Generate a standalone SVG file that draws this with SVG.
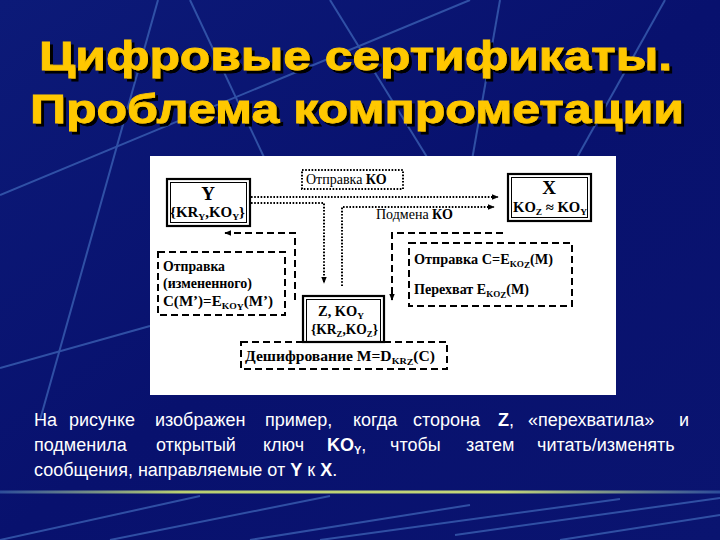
<svg xmlns="http://www.w3.org/2000/svg" width="720" height="540" viewBox="0 0 720 540">
<defs>
<linearGradient id="bg" x1="0" y1="0" x2="1" y2="1">
<stop offset="0" stop-color="#0c1a78"/>
<stop offset="0.5" stop-color="#08116e"/>
<stop offset="1" stop-color="#0a1470"/>
</linearGradient>
<linearGradient id="sep" x1="0" y1="0" x2="1" y2="0">
<stop offset="0" stop-color="#2d4c9a"/>
<stop offset="0.25" stop-color="#b9cf72"/>
<stop offset="0.7" stop-color="#c4d67a"/>
<stop offset="1" stop-color="#2d4c9a"/>
</linearGradient>
<filter id="shadow" x="-5%" y="-20%" width="110%" height="140%">
<feOffset in="SourceAlpha" dx="2.5" dy="2.5" result="o"/>
<feFlood flood-color="#000"/>
<feComposite in2="o" operator="in" result="s"/>
<feMerge><feMergeNode in="s"/><feMergeNode in="SourceGraphic"/></feMerge>
</filter>
<marker id="ah" viewBox="0 0 10 10" refX="9" refY="5" markerWidth="7" markerHeight="7" orient="auto" markerUnits="userSpaceOnUse">
<path d="M0,1 L10,5 L0,9 z" fill="#000"/>
</marker>
<style>
.t{font-family:"Liberation Serif","Times New Roman",serif;font-weight:bold;font-size:14px;fill:#000}
.tn{font-weight:normal}
.big{font-size:19px}
.sub{font-size:9px}
.dot{fill:none;stroke:#000;stroke-width:2;stroke-dasharray:1.6 1.6}
.dash{fill:none;stroke:#000;stroke-width:2;stroke-dasharray:7 4}
.bo{fill:#fff;stroke:#000;stroke-width:2.2}
.bi{fill:none;stroke:#000;stroke-width:1}
.body{font-family:"Liberation Sans",Arial,sans-serif;font-size:18px;fill:#fff}
.title{font-family:"Liberation Sans",Arial,sans-serif;font-weight:bold;font-size:41px;fill:#ffc800;stroke:#ffc800;stroke-width:0.8}
.bgl{stroke:#4a78c8;stroke-width:2;fill:none;opacity:0.6}
</style>
</defs>

<rect x="0" y="0" width="720" height="540" fill="url(#bg)"/>
<g class="bgl">
<line x1="158" y1="0" x2="40" y2="420"/>
<line x1="190" y1="0" x2="270" y2="170"/>
<line x1="330" y1="0" x2="435" y2="170"/>
<line x1="0" y1="195" x2="470" y2="0"/>
<line x1="500" y1="0" x2="472" y2="160"/>
<line x1="665" y1="0" x2="570" y2="170"/>
<line x1="0" y1="368" x2="150" y2="326"/>
<line x1="0" y1="540" x2="200" y2="496"/>
<line x1="110" y1="540" x2="330" y2="496"/>
<line x1="250" y1="540" x2="470" y2="505"/>
<line x1="320" y1="540" x2="620" y2="499"/>
<line x1="455" y1="535" x2="720" y2="498"/>
<line x1="560" y1="540" x2="720" y2="515"/>
</g>
<rect x="0" y="490.5" width="720" height="3" fill="url(#sep)"/>

<g id="title" filter="url(#shadow)">
<text class="title" x="39" y="70" textLength="633" lengthAdjust="spacingAndGlyphs">Цифровые сертификаты.</text>
<text class="title" x="30" y="123" textLength="654" lengthAdjust="spacingAndGlyphs">Проблема компрометации</text>
</g>

<rect x="150" y="156" width="466" height="239" fill="#fff"/>

<g id="connectors">
<polyline class="dot" points="251,197 498,197" marker-end="url(#ah)"/>
<polyline class="dot" points="251,203 324,203 324,283" marker-end="url(#ah)"/>
<polyline class="dot" points="342,286 342,207 494,207" marker-end="url(#ah)"/>
<polyline class="dash" points="295,300 295,233 225,233" marker-end="url(#ah)"/>
<polyline class="dash" points="503,233 392,233 392,300" marker-end="url(#ah)"/>
</g>

<g id="send-ko">
<rect class="dot" x="302" y="170" width="101" height="19"/>
<text class="t" x="306" y="184" font-size="11"><tspan class="tn">Отправка</tspan> КО</text>
</g>

<g id="label-podmena">
<text class="t" x="376" y="219" font-size="11"><tspan class="tn">Подмена</tspan> КО</text>
</g>

<g id="node-y">
<rect class="bo" x="167" y="179" width="83" height="47"/>
<rect class="bi" x="170.5" y="182.5" width="76" height="40"/>
<text class="t big" x="208" y="200" text-anchor="middle">Y</text>
<text class="t" x="170" y="217" textLength="75" lengthAdjust="spacingAndGlyphs">{KR<tspan class="sub" dy="3">Y</tspan><tspan dy="-3">,KO</tspan><tspan class="sub" dy="3">Y</tspan><tspan dy="-3">}</tspan></text>
</g>

<g id="node-x">
<rect class="bo" x="508" y="174" width="83" height="47"/>
<rect class="bi" x="511.5" y="177.5" width="76" height="40"/>
<text class="t big" x="549" y="194" text-anchor="middle">X</text>
<text class="t" x="513" y="212" textLength="74" lengthAdjust="spacingAndGlyphs">KO<tspan class="sub" dy="3">Z</tspan><tspan dy="-3"> ≈ KO</tspan><tspan class="sub" dy="3">Y</tspan></text>
</g>

<g id="node-send-modified">
<rect class="dash" x="158" y="252" width="127" height="63"/>
<text class="t" x="163" y="271" textLength="62" lengthAdjust="spacingAndGlyphs">Отправка</text>
<text class="t" x="163" y="288" textLength="89" lengthAdjust="spacingAndGlyphs">(измененного)</text>
<text class="t" x="163" y="306" textLength="110" lengthAdjust="spacingAndGlyphs">C(M’)=E<tspan class="sub" dy="3">KO</tspan><tspan class="sub" font-size="7" dy="1">Y</tspan><tspan dy="-4">(M’)</tspan></text>
</g>

<g id="node-z">
<rect class="bo" x="303" y="296" width="81" height="46"/>
<rect class="bi" x="306.5" y="299.5" width="74" height="42"/>
<text class="t" x="318" y="316" font-size="15" textLength="46" lengthAdjust="spacingAndGlyphs">Z, KO<tspan class="sub" dy="3">Y</tspan></text>
<text class="t" x="311" y="334" textLength="67" lengthAdjust="spacingAndGlyphs">{KR<tspan class="sub" dy="3">Z</tspan><tspan dy="-3">,KO</tspan><tspan class="sub" dy="3">Z</tspan><tspan dy="-3">}</tspan></text>
</g>

<g id="node-intercept">
<rect class="dash" x="409" y="243" width="163" height="63"/>
<text class="t" x="414" y="264" textLength="139" lengthAdjust="spacingAndGlyphs">Отправка C=E<tspan class="sub" dy="3">KO</tspan><tspan class="sub" font-size="7" dy="1">Z</tspan><tspan dy="-4">(M)</tspan></text>
<text class="t" x="414" y="294" textLength="115" lengthAdjust="spacingAndGlyphs">Перехват E<tspan class="sub" dy="3">KO</tspan><tspan class="sub" font-size="7" dy="1">Z</tspan><tspan dy="-4">(M)</tspan></text>
</g>

<g id="node-decrypt">
<rect class="dash" x="241" y="342" width="206" height="27"/>
<text class="t" x="245" y="361" font-size="15" textLength="190" lengthAdjust="spacingAndGlyphs">Дешифрование M=D<tspan class="sub" dy="3">KR</tspan><tspan class="sub" font-size="7" dy="1">Z</tspan><tspan dy="-4">(C)</tspan></text>
</g>

<g id="caption">
<text class="body" y="426"><tspan x="34">На</tspan><tspan x="69">рисунке</tspan><tspan x="155">изображен</tspan><tspan x="265">пример,</tspan><tspan x="353">когда</tspan><tspan x="413">сторона</tspan><tspan x="498" font-weight="bold">Z</tspan><tspan>,</tspan><tspan x="528">«перехватила»</tspan><tspan x="679">и</tspan></text>
<text class="body" y="451"><tspan x="34">подменила</tspan><tspan x="156">открытый</tspan><tspan x="263">ключ</tspan><tspan x="327" font-weight="bold">KO</tspan><tspan font-weight="bold" font-size="11" dy="3">Y</tspan><tspan dy="-3">,</tspan><tspan x="390">чтобы</tspan><tspan x="466">затем</tspan><tspan x="537">читать/изменять</tspan></text>
<text class="body" x="34" y="476">сообщения, направляемые от <tspan font-weight="bold">Y</tspan> к <tspan font-weight="bold">X</tspan>.</text>
</g>
</svg>
